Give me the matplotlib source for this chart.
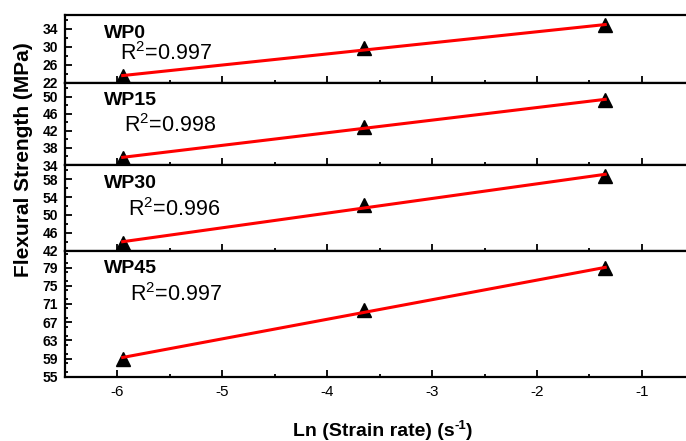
import numpy as np
import matplotlib
matplotlib.use("Agg")
import matplotlib.pyplot as plt
from matplotlib.ticker import MultipleLocator

plt.rcParams['font.family'] = ['Liberation Sans', 'DejaVu Sans']
plt.rcParams['mathtext.default'] = 'regular'
plt.rcParams['axes.unicode_minus'] = False

# ln of strain rate (s^-1)
ln_rate = [-5.95, -3.65, -1.35]

samples = ["WP0", "WP15", "WP30", "WP45"]
strength = [
    [23.4, 29.6, 34.7],
    [35.6, 43.0, 49.2],
    [43.7, 52.2, 58.8],
    [59.0, 69.6, 78.8],
]
r2_labels = ["0.997", "0.998", "0.996", "0.997"]

y_lims = [(22, 37.0), (34, 53.3), (42, 61.2), (55, 82.7)]
y_ticks = [
    [22, 26, 30, 34],
    [34, 38, 42, 46, 50],
    [42, 46, 50, 54, 58],
    [55, 59, 63, 67, 71, 75, 79],
]
x_ticks = [-6, -5, -4, -3, -2, -1]

W, H = 686, 441
fig = plt.figure(figsize=(W / 100, H / 100), dpi=100)
gs = fig.add_gridspec(4, 1, left=65 / W, right=1.0, top=1 - 15 / H,
                      bottom=1 - 376.7 / H, hspace=0,
                      height_ratios=[67.7, 82.3, 85.7, 126])

# text baselines in pixels: (name x, name y, r2 x, r2 y)
txt_pos = [(104, 38, 120, 60), (104, 105, 124, 132),
           (104, 188, 128, 216), (104, 273, 130, 301)]

axes = []
for i in range(4):
    ax = fig.add_subplot(gs[i], sharex=axes[0] if axes else None)
    axes.append(ax)
    y = strength[i]
    k, b = np.polyfit(ln_rate, y, 1)
    xf = np.array([ln_rate[0], ln_rate[-1]])
    ax.plot(ln_rate, y, linestyle='none', marker='^', ms=10.5, color='black',
            zorder=2, clip_on=False)
    ax.plot(xf, k * xf + b, color='red', lw=2.2, zorder=3)

    ax.set_xlim(-6.5, -0.58)
    ax.set_ylim(*y_lims[i])
    ax.set_yticks(y_ticks[i])
    ax.yaxis.set_minor_locator(MultipleLocator(2))
    ax.set_xticks(x_ticks)
    ax.xaxis.set_minor_locator(MultipleLocator(0.5))
    ax.tick_params(axis='both', which='major', direction='in', width=1.3,
                   length=5)
    ax.tick_params(axis='both', which='minor', direction='in', width=1.3,
                   length=2.5)
    ax.tick_params(axis='y', which='both', labelsize=10, pad=5)
    for lab in ax.get_yticklabels():
        lab.set_fontweight('bold')
    ax.spines['right'].set_visible(False)
    for s in ['left', 'bottom', 'top']:
        ax.spines[s].set_linewidth(1.6)
    if i < 3:
        ax.tick_params(axis='x', labelbottom=False)
    else:
        ax.tick_params(axis='x', labelsize=11, pad=6)

    nx, ny, rx, ry = txt_pos[i]
    fig.text(nx / W, 1 - ny / H, samples[i], fontsize=14, fontweight='bold',
             va='baseline', ha='left')
    fig.text(rx / W, 1 - ry / H, r'R$^{2}$=' + r2_labels[i], fontsize=15.5,
             va='baseline', ha='left')

fig.text(24 / W, 1 - 160 / H, "Flexural Strength (MPa)", rotation=90,
         fontsize=15, fontweight='bold', ha='center', va='center')

# x axis title with a small raised "-1", built from three pieces
renderer = fig.canvas.get_renderer()
base_y = 1 - 436 / H
pieces = [("Ln (Strain rate) (s", 14, 0), ("-1", 9.5, 7), (")", 14, 0)]
texts = []
for s, size, rise in pieces:
    t = fig.text(0, base_y + rise / H, s, fontsize=size, fontweight='bold',
                 va='baseline', ha='left')
    texts.append(t)
widths = [t.get_window_extent(renderer).width for t in texts]
x0 = 383 - sum(widths) / 2
for t, w in zip(texts, widths):
    t.set_x(x0 / W)
    x0 += w

fig.savefig("out.png", dpi=100)
